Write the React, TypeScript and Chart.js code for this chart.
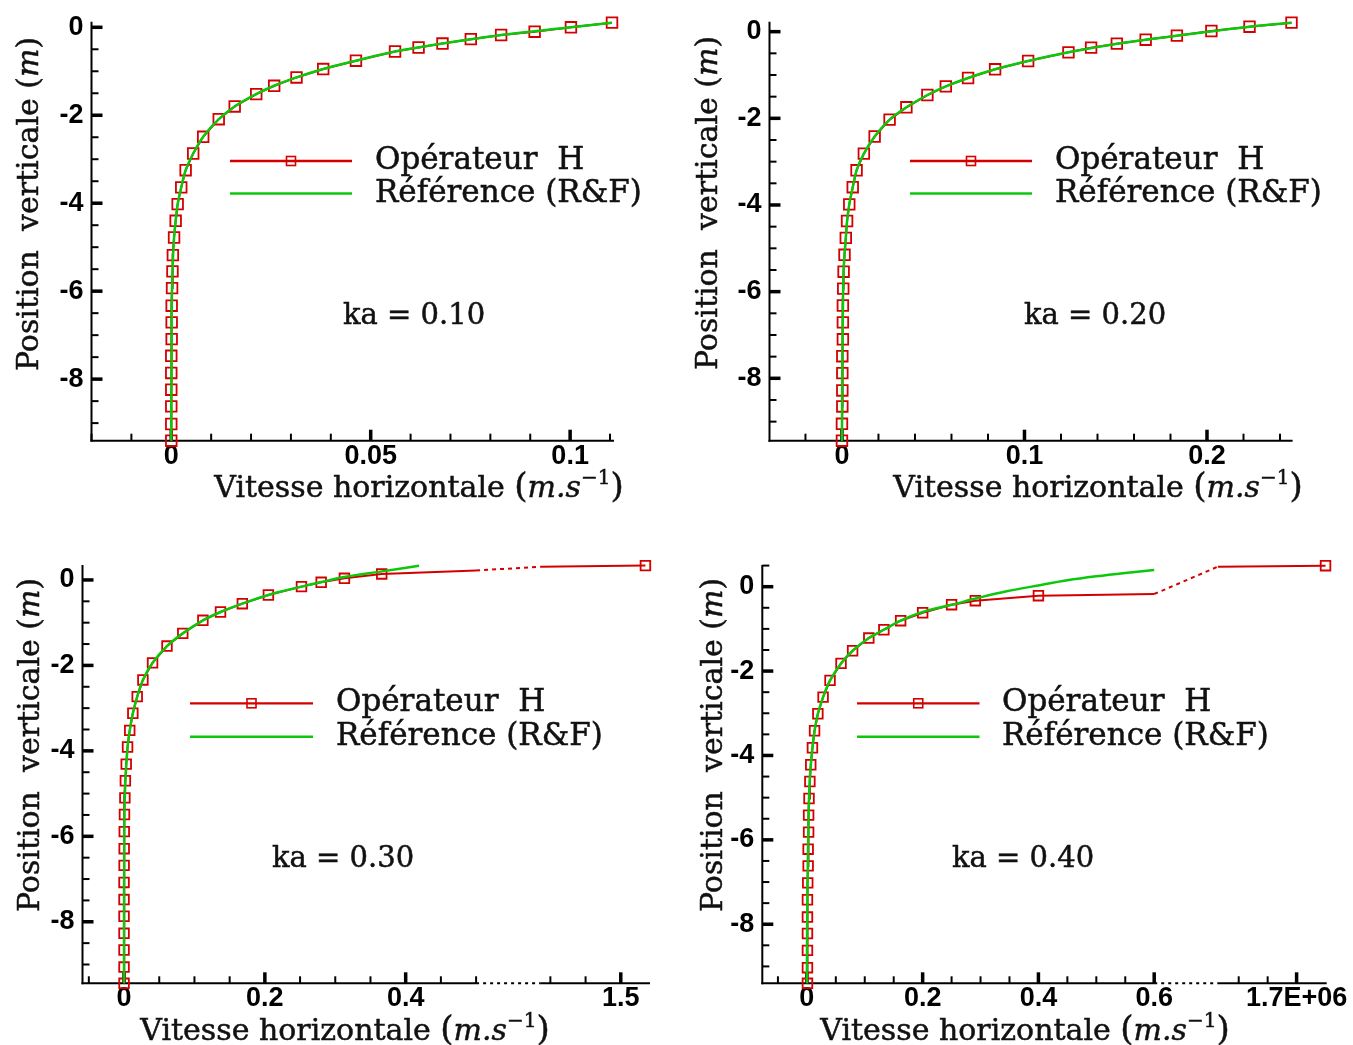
import React, { useEffect, useRef } from "react";
import { Chart, registerables } from "chart.js";

Chart.register(...registerables);

// ---------------- DATA ----------------
// Panel 1 : ka = 0.10
const p1OpY = [-9.4, -9.02, -8.62, -8.24, -7.86, -7.47, -7.09, -6.71, -6.33, -5.93, -5.55, -5.18, -4.78, -4.4, -4.02, -3.64, -3.25, -2.87, -2.49, -2.09, -1.8, -1.52, -1.33, -1.14, -0.95, -0.76, -0.55, -0.46, -0.37, -0.27, -0.175, -0.1, 0.0, 0.105];
const p1OpX = [0, 0, 0, 0, 0, 0, 0.0001, 0.0001, 0.0001, 0.0002, 0.0003, 0.0004, 0.0007, 0.0011, 0.0016, 0.0025, 0.0036, 0.0055, 0.008, 0.0119, 0.0159, 0.0213, 0.0258, 0.0314, 0.0381, 0.0463, 0.0561, 0.062, 0.068, 0.0751, 0.0827, 0.0911, 0.1002, 0.1105];
const p1RefY = [-9.4, -8.6, -7.5, -6.5, -5.55, -4.78, -4.4, -4.02, -3.64, -3.25, -2.87, -2.49, -2.09, -1.8, -1.52, -1.33, -1.14, -0.95, -0.76, -0.55, -0.37, -0.175, 0.0, 0.105];
const p1RefX = [0, 0, 0.0001, 0.0001, 0.0003, 0.0007, 0.0011, 0.0016, 0.0025, 0.0036, 0.0055, 0.008, 0.0119, 0.0159, 0.0213, 0.0258, 0.0314, 0.0381, 0.0463, 0.0561, 0.068, 0.0827, 0.1002, 0.1105];

// Panel 2 : ka = 0.20
const p2OpY = [-9.44, -9.05, -8.65, -8.28, -7.88, -7.49, -7.1, -6.71, -6.32, -5.93, -5.54, -5.15, -4.76, -4.37, -3.985, -3.59, -3.2, -2.815, -2.42, -2.03, -1.746, -1.462, -1.262, -1.069, -0.869, -0.677, -0.477, -0.369, -0.277, -0.185, -0.092, 0.015, 0.115, 0.208];
const p2OpX = [0, 0, 0.0002, 0.0002, 0.0002, 0.0002, 0.0005, 0.0005, 0.0005, 0.0007, 0.0009, 0.0014, 0.0021, 0.0028, 0.004, 0.0059, 0.008, 0.012, 0.0179, 0.0261, 0.0353, 0.0468, 0.0569, 0.0691, 0.0839, 0.102, 0.1241, 0.1365, 0.1506, 0.1664, 0.1835, 0.2024, 0.2233, 0.2463];
const p2RefY = [-9.44, -8.5, -7.5, -6.5, -5.5, -4.76, -4.37, -3.985, -3.59, -3.2, -2.815, -2.42, -2.03, -1.746, -1.462, -1.262, -1.069, -0.869, -0.677, -0.477, -0.277, -0.092, 0.115, 0.208];
const p2RefX = [0, 0.0001, 0.0002, 0.0005, 0.0009, 0.0021, 0.0028, 0.004, 0.0059, 0.008, 0.012, 0.0179, 0.0261, 0.0353, 0.0468, 0.0569, 0.0691, 0.0839, 0.102, 0.1241, 0.1506, 0.1835, 0.2233, 0.2463];

// Panel 3 : ka = 0.30
const p3OpY = [-9.44, -9.06, -8.66, -8.27, -7.87, -7.48, -7.08, -6.68, -6.29, -5.89, -5.49, -5.1, -4.7, -4.31, -3.91, -3.52, -3.12, -2.73, -2.34, -1.94, -1.547, -1.25, -0.945, -0.75, -0.555, -0.352, -0.156, -0.055, 0.039, 0.141, 0.336];
const p3OpX = [0, 0, 0, 0, 0, 0, 0, 0.0001, 0.0002, 0.0003, 0.0006, 0.0012, 0.0019, 0.0031, 0.005, 0.0081, 0.0125, 0.0187, 0.0268, 0.0405, 0.061, 0.0834, 0.112, 0.137, 0.168, 0.205, 0.252, 0.28, 0.313, 0.366, 1.535];
const p3BendY = [0.22, 0.31];
const p3BendX = [0.5, 1.3855];
const p3RefY = [-9.44, -8.0, -6.5, -5.49, -4.7, -3.91, -3.52, -3.12, -2.73, -2.34, -1.94, -1.547, -1.25, -0.945, -0.75, -0.555, -0.352, -0.156, -0.05, 0.07, 0.195, 0.335];
const p3RefX = [0, 0, 0.0002, 0.0006, 0.0019, 0.005, 0.0081, 0.0125, 0.0187, 0.0268, 0.0405, 0.061, 0.0834, 0.112, 0.137, 0.168, 0.205, 0.252, 0.28, 0.313, 0.364, 0.419];

// Panel 4 : ka = 0.40
const p4OpY = [-9.4, -9.03, -8.62, -8.22, -7.83, -7.42, -7.02, -6.617, -6.221, -5.818, -5.415, -5.02, -4.617, -4.221, -3.818, -3.415, -3.012, -2.617, -2.221, -1.818, -1.518, -1.217, -1.02, -0.806, -0.617, -0.427, -0.332, -0.213, 0.498];
const p4OpX = [0.001, 0.001, 0.001, 0.001, 0.001, 0.001, 0.0015, 0.0022, 0.0022, 0.003, 0.003, 0.0037, 0.0052, 0.0067, 0.0096, 0.0133, 0.019, 0.028, 0.04, 0.059, 0.079, 0.107, 0.133, 0.162, 0.2, 0.25, 0.291, 0.4, 1.71e6];
const p4BendY = [-0.174, 0.474];
const p4BendX = [0.6, 1.6728e6];
const p4RefY = [-9.4, -8.0, -7.0, -5.8, -4.6, -3.82, -3.415, -3.012, -2.617, -2.221, -1.818, -1.518, -1.217, -1.02, -0.806, -0.6, -0.43, -0.27, -0.11, 0.03, 0.15, 0.245, 0.325, 0.396];
const p4RefX = [0, 0.0005, 0.0012, 0.0025, 0.0048, 0.0096, 0.0133, 0.019, 0.028, 0.04, 0.059, 0.079, 0.107, 0.133, 0.162, 0.2, 0.25, 0.295, 0.345, 0.4, 0.45, 0.5, 0.55, 0.6];

// Ticks
const yTickValues = [-9, -8.5, -8, -7.5, -7, -6.5, -6, -5.5, -5, -4.5, -4, -3.5, -3, -2.5, -2, -1.5, -1, -0.5, 0];
const yTickLabels = ["", "", "-8", "", "", "", "-6", "", "", "", "-4", "", "", "", "-2", "", "", "", "0"];
const p4YTickValues = [...yTickValues, 0.5];
const p4YTickLabels = [...yTickLabels, ""];

const p1XTicks = [-0.02, -0.01, 0, 0.01, 0.02, 0.03, 0.04, 0.05, 0.06, 0.07, 0.08, 0.09, 0.1, 0.11];
const p1XLabels = ["", "", "0", "", "", "", "", "0.05", "", "", "", "", "0.1", ""];
const p2XTicks = [-0.02, 0, 0.02, 0.04, 0.06, 0.08, 0.1, 0.12, 0.14, 0.16, 0.18, 0.2, 0.22, 0.24];
const p2XLabels = ["", "0", "", "", "", "", "0.1", "", "", "", "", "0.2", "", ""];
const p3XTicks = [-0.05, 0, 0.05, 0.1, 0.15, 0.2, 0.25, 0.3, 0.35, 0.4, 0.45, 0.5, 1.4, 1.45, 1.5];
const p3XLabels = ["", "0", "", "", "", "0.2", "", "", "", "0.4", "", "", "", "", "1.5"];
const p4XTicks = [-0.05, 0, 0.05, 0.1, 0.15, 0.2, 0.25, 0.3, 0.35, 0.4, 0.45, 0.5, 0.55, 0.6, 1.68e6, 1.69e6, 1.7e6];
const p4XLabels = ["", "0", "", "", "", "0.2", "", "", "", "0.4", "", "", "", "0.6", "", "", "1.7E+06"];

const kaTexts = ["ka = 0.10", "ka = 0.20", "ka = 0.30", "ka = 0.40"];
const legendTexts = ["Opérateur  H", "Référence (R&F)"];

// ---------------- STYLE ----------------
const RED = "rgb(212,0,0)";
const GREEN = "rgb(12,200,12)";
const SERIF = "'DejaVu Serif', 'Liberation Serif', serif";
const SANS = "'Liberation Sans', Arial, Helvetica, sans-serif";
const TXT = "#111";

type Brk = { start: number; gap: number; segStart: number; segScale: number } | null;

function toDisp(v: number, brk: Brk) {
  if (!brk || v <= brk.start) return v;
  return brk.start + brk.gap + (v - brk.segStart) / brk.segScale;
}

const panels = [
  {
    left: 0, top: 0, w: 680, h: 520,
    area: { l: 91.5, t: 21.7, r: 614, b: 440.7 },
    xMin: -0.02, xMax: 0.111, yMin: -9.4, yMax: 0.127,
    opX: p1OpX, opY: p1OpY, bendX: [] as number[], bendY: [] as number[], refX: p1RefX, refY: p1RefY,
    xTicks: p1XTicks, xLabels: p1XLabels, yTicks: yTickValues, yLabels: yTickLabels,
    brk: null as Brk, marker: 7.5,
    legend: { x1: 230, x2: 352, y1: 161, y2: 193.5, tx: 375 },
    ka: { text: kaTexts[0], x: 343, by: 323.5 },
    xTitle: { cx: 419, by: 497 }, yTitle: { cx: 27, cy: 204 },
  },
  {
    left: 680, top: 0, w: 673, h: 520,
    area: { l: 89.5, t: 21.7, r: 612.6, b: 440.7 },
    xMin: -0.0397, xMax: 0.2469, yMin: -9.44, yMax: 0.23,
    opX: p2OpX, opY: p2OpY, bendX: [] as number[], bendY: [] as number[], refX: p2RefX, refY: p2RefY,
    xTicks: p2XTicks, xLabels: p2XLabels, yTicks: yTickValues, yLabels: yTickLabels,
    brk: null as Brk, marker: 7.5,
    legend: { x1: 230, x2: 352, y1: 161, y2: 193.5, tx: 375 },
    ka: { text: kaTexts[1], x: 344, by: 324 },
    xTitle: { cx: 418, by: 497 }, yTitle: { cx: 26, cy: 203 },
  },
  {
    left: 0, top: 520, w: 680, h: 525,
    area: { l: 82.5, t: 45, r: 650, b: 463.3 },
    xMin: -0.059, xMax: 0.747, yMin: -9.44, yMax: 0.35,
    opX: p3OpX, opY: p3OpY, bendX: p3BendX, bendY: p3BendY, refX: p3RefX, refY: p3RefY,
    xTicks: p3XTicks, xLabels: p3XLabels, yTicks: yTickValues, yLabels: yTickLabels,
    brk: { start: 0.5, gap: 0.091, segStart: 1.3855, segScale: 1 } as Brk, marker: 6.8,
    legend: { x1: 190, x2: 313, y1: 183.3, y2: 216.7, tx: 336 },
    ka: { text: kaTexts[2], x: 272, by: 346.7 },
    xTitle: { cx: 345, by: 520 }, yTitle: { cx: 28, cy: 225 },
  },
  {
    left: 680, top: 520, w: 673, h: 525,
    area: { l: 82.3, t: 45, r: 646.7, b: 463.3 },
    xMin: -0.077, xMax: 0.898, yMin: -9.4, yMax: 0.514,
    opX: p4OpX, opY: p4OpY, bendX: p4BendX, bendY: p4BendY, refX: p4RefX, refY: p4RefY,
    xTicks: p4XTicks, xLabels: p4XLabels, yTicks: p4YTickValues, yLabels: p4YTickLabels,
    brk: { start: 0.6, gap: 0.11, segStart: 1.6728e6, segScale: 2e5 } as Brk, marker: 6.8,
    legend: { x1: 177, x2: 299.5, y1: 183.3, y2: 216.7, tx: 322 },
    ka: { text: kaTexts[3], x: 272, by: 346.7 },
    xTitle: { cx: 345, by: 520 }, yTitle: { cx: 30.5, cy: 225 },
  },
];

type Cfg = (typeof panels)[number];

type Run = { t: string; f: string; dy?: number };

function drawRuns(ctx: CanvasRenderingContext2D, runs: Run[], x: number, y: number, center: boolean) {
  const widths = runs.map((r) => {
    ctx.font = r.f;
    return ctx.measureText(r.t).width;
  });
  const total = widths.reduce((a, b) => a + b, 0);
  let cx = center ? x - total / 2 : x;
  runs.forEach((r, i) => {
    ctx.font = r.f;
    ctx.fillText(r.t, cx, y + (r.dy || 0));
    ctx.strokeText(r.t, cx, y + (r.dy || 0));
    cx += widths[i];
  });
}

function seg(ctx: CanvasRenderingContext2D, x1: number, y1: number, x2: number, y2: number) {
  ctx.beginPath();
  ctx.moveTo(x1, y1);
  ctx.lineTo(x2, y2);
  ctx.stroke();
}

function makePlugin(cfg: Cfg) {
  return {
    id: "tecplotAxes",
    beforeDatasetsDraw(chart: any) {
      const { ctx, chartArea: a, scales } = chart;
      const xs = scales.x;
      const ys = scales.y;
      ctx.save();
      ctx.strokeStyle = "#000";
      ctx.lineCap = "butt";
      ctx.lineWidth = 2;
      seg(ctx, a.left, a.top, a.left, a.bottom + 1);
      if (cfg.brk) {
        const p0 = xs.getPixelForValue(cfg.brk.start);
        const p1 = xs.getPixelForValue(cfg.brk.start + cfg.brk.gap);
        seg(ctx, a.left - 1, a.bottom, p0, a.bottom);
        ctx.setLineDash([3, 4]);
        seg(ctx, p0, a.bottom, p1, a.bottom);
        ctx.setLineDash([]);
        seg(ctx, p1, a.bottom, a.right, a.bottom);
      } else {
        seg(ctx, a.left - 1, a.bottom, a.right, a.bottom);
      }
      cfg.xTicks.forEach((v, i) => {
        const major = cfg.xLabels[i] !== "";
        const px = xs.getPixelForValue(toDisp(v, cfg.brk));
        ctx.lineWidth = major ? 3.5 : 2;
        seg(ctx, px, a.bottom, px, a.bottom - (major ? 11 : 7));
      });
      cfg.yTicks.forEach((v, i) => {
        const major = cfg.yLabels[i] !== "";
        const py = ys.getPixelForValue(v);
        ctx.lineWidth = major ? 3.5 : 2;
        seg(ctx, a.left, py, a.left + (major ? 11 : 7), py);
      });
      ctx.restore();
    },
    afterDraw(chart: any) {
      const { ctx } = chart;
      ctx.save();
      // legend
      const L = cfg.legend;
      ctx.strokeStyle = RED;
      ctx.lineWidth = 2.3;
      seg(ctx, L.x1, L.y1, L.x2, L.y1);
      const mx = (L.x1 + L.x2) / 2;
      ctx.lineWidth = 1.6;
      ctx.strokeRect(mx - 4.5, L.y1 - 4.5, 9, 9);
      ctx.strokeStyle = GREEN;
      ctx.lineWidth = 2.5;
      seg(ctx, L.x1, L.y2, L.x2, L.y2);
      ctx.fillStyle = TXT;
      ctx.strokeStyle = TXT;
      ctx.lineWidth = 0.5;
      ctx.textBaseline = "alphabetic";
      ctx.textAlign = "left";
      drawRuns(ctx, [{ t: legendTexts[0], f: `31px ${SERIF}` }], L.tx, L.y1 + 8, false);
      drawRuns(ctx, [{ t: legendTexts[1], f: `31px ${SERIF}` }], L.tx, L.y2 + 8, false);
      // ka label
      drawRuns(ctx, [{ t: cfg.ka.text, f: `29px ${SERIF}` }], cfg.ka.x, cfg.ka.by, false);
      // x title
      drawRuns(
        ctx,
        [
          { t: "Vitesse horizontale ", f: `30px ${SERIF}` },
          { t: "(", f: `34px ${SERIF}` },
          { t: "m.s", f: `italic 30px ${SERIF}` },
          { t: "−1", f: `20px ${SERIF}`, dy: -13 },
          { t: ")", f: `34px ${SERIF}` },
        ],
        cfg.xTitle.cx,
        cfg.xTitle.by,
        true
      );
      // y title
      ctx.translate(cfg.yTitle.cx, cfg.yTitle.cy);
      ctx.rotate(-Math.PI / 2);
      drawRuns(
        ctx,
        [
          { t: "Position  verticale ", f: `30px ${SERIF}` },
          { t: "(", f: `30px ${SERIF}` },
          { t: "m", f: `italic 30px ${SERIF}` },
          { t: ")", f: `30px ${SERIF}` },
        ],
        0,
        11,
        true
      );
      ctx.restore();
    },
  };
}

function buildConfig(cfg: Cfg): any {
  const opPts = cfg.opX
    .map((x, i) => ({ x: toDisp(x, cfg.brk), y: cfg.opY[i], m: true }))
    .concat(cfg.bendX.map((x, i) => ({ x: toDisp(x, cfg.brk), y: cfg.bendY[i], m: false })))
    .sort((p, q) => p.y - q.y);
  const refPts = cfg.refX.map((x, i) => ({ x: toDisp(x, cfg.brk), y: cfg.refY[i] }));
  const AX_W = 50;
  const AX_H = 40;
  const brk = cfg.brk;
  const tickFont = { family: SANS, weight: "bold" as const, size: 27, lineHeight: 1 };
  return {
    type: "line",
    data: {
      datasets: [
        {
          label: legendTexts[1],
          data: refPts,
          borderColor: GREEN,
          borderWidth: 2.5,
          pointRadius: 0,
          tension: 0.35,
          fill: false,
          clip: false,
        },
        {
          label: legendTexts[0],
          data: opPts,
          borderColor: RED,
          borderWidth: 2,
          backgroundColor: "rgba(0,0,0,0)",
          pointStyle: "rect",
          pointRadius: (c: any) => (c.raw && c.raw.m ? cfg.marker : 0),
          pointBorderWidth: 1.8,
          pointBorderColor: RED,
          pointBackgroundColor: "rgba(0,0,0,0)",
          tension: 0,
          fill: false,
          clip: false,
          segment: {
            borderDash: (c: any) =>
              brk &&
              c.p0.parsed.x >= brk.start - 1e-9 &&
              c.p1.parsed.x <= brk.start + brk.gap + 1e-9
                ? [4, 4]
                : undefined,
          },
        },
      ],
    },
    options: {
      responsive: false,
      animation: false,
      devicePixelRatio: 1,
      events: [],
      layout: {
        padding: {
          left: cfg.area.l - AX_W,
          top: cfg.area.t,
          right: cfg.w - cfg.area.r,
          bottom: cfg.h - cfg.area.b - AX_H,
        },
      },
      plugins: {
        legend: { display: false },
        tooltip: { enabled: false },
        title: { display: false },
      },
      scales: {
        x: {
          type: "linear",
          position: "bottom",
          min: cfg.xMin,
          max: cfg.xMax,
          grid: { display: false, drawTicks: false },
          border: { display: false },
          afterBuildTicks: (s: any) => {
            s.ticks = cfg.xTicks.map((v) => ({ value: toDisp(v, cfg.brk) }));
          },
          afterFit: (s: any) => {
            s.height = AX_H;
            s.paddingLeft = 0;
            s.paddingRight = 0;
          },
          ticks: {
            autoSkip: false,
            maxRotation: 0,
            minRotation: 0,
            padding: 2,
            color: "#000",
            font: tickFont,
            callback: (_v: any, i: number) => cfg.xLabels[i],
          },
        },
        y: {
          type: "linear",
          position: "left",
          min: cfg.yMin,
          max: cfg.yMax,
          grid: { display: false, drawTicks: false },
          border: { display: false },
          afterBuildTicks: (s: any) => {
            s.ticks = cfg.yTicks.map((v) => ({ value: v }));
          },
          afterFit: (s: any) => {
            s.width = AX_W;
            s.paddingTop = 0;
            s.paddingBottom = 0;
          },
          ticks: {
            autoSkip: false,
            padding: 8,
            color: "#000",
            font: tickFont,
            callback: (_v: any, i: number) => cfg.yLabels[i],
          },
        },
      },
    },
    plugins: [makePlugin(cfg)],
  };
}

function Panel({ cfg }: { cfg: Cfg }) {
  const ref = useRef<HTMLCanvasElement | null>(null);
  useEffect(() => {
    if (!ref.current) return;
    const chart = new Chart(ref.current, buildConfig(cfg));
    return () => chart.destroy();
  }, [cfg]);
  return (
    <canvas
      ref={ref}
      width={cfg.w}
      height={cfg.h}
      style={{ position: "absolute", left: cfg.left, top: cfg.top, width: cfg.w, height: cfg.h, display: "block" }}
    />
  );
}

export default function App() {
  return (
    <div style={{ position: "absolute", left: 0, top: 0, width: 1353, height: 1045, background: "#fff", overflow: "hidden" }}>
      {panels.map((p, i) => (
        <Panel key={i} cfg={p} />
      ))}
    </div>
  );
}
